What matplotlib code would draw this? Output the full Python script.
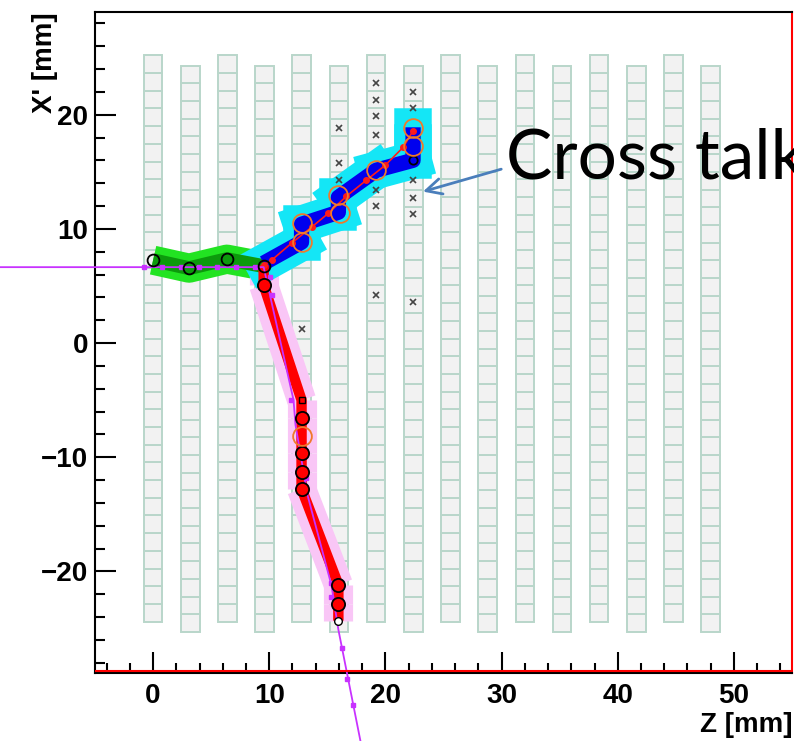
import matplotlib
matplotlib.use("Agg")
import matplotlib.pyplot as plt
from matplotlib.patches import Rectangle

# detector layers (z position of each column, mm)
layer_z = [0.0, 3.2, 6.4, 9.6, 12.8, 16.0, 19.2, 22.4, 25.6, 28.8, 32.0, 35.2, 38.4, 41.6, 44.8, 48.0]
layer_bottom = [-24.4, -25.3]  # even / odd columns are staggered
n_cells = 32
cell_h = 1.55
cell_w = 1.6

# primary (green) track
green_z = [0.0, 3.1, 6.35, 9.52]
green_x = [7.26, 6.56, 7.35, 6.74]

# blue / cyan track going up
blue_z = [9.52, 12.78, 12.78, 15.95, 15.95, 19.21, 22.38, 22.38, 22.38]
blue_x = [7.0, 8.84, 10.41, 11.46, 12.77, 15.14, 16.01, 17.5, 18.9]
blue_fit_z = [9.52, 10.2, 11.92, 13.64, 15.09, 16.64, 18.35, 19.98, 21.53, 22.38]
blue_fit_x = [6.82, 7.26, 8.75, 10.15, 11.37, 12.86, 14.26, 15.57, 17.15, 18.6]
orange_z = [12.78, 12.78, 15.95, 16.1, 19.21, 22.38, 22.38]
orange_x = [10.5, 8.84, 13.0, 11.4, 15.14, 18.8, 17.3]

# red track going down
red_z = [9.52, 9.52, 12.78, 12.78, 12.78, 12.78, 12.78, 15.95, 15.95, 15.95]
red_x = [6.82, 5.07, -4.99, -6.56, -9.62, -11.29, -12.77, -21.17, -22.83, -24.32]
red_hit_z = [9.52, 12.78, 12.78, 12.78, 12.78, 15.95, 15.95]
red_hit_x = [5.07, -6.56, -9.62, -11.29, -12.77, -21.17, -22.83]

# true (MC) particle path
mc_z = [-13.2, 9.52, 12.09, 12.26, 13.29, 15.35, 15.95, 17.84]
mc_x = [6.65, 6.65, -4.99, -7.17, -13.3, -21.2, -25.1, -34.8]
mc_mz = [-0.77, 0.77, 2.4, 3.95, 5.5, 7.1, 8.8, 10.1, 10.2, 11.9, 13.2, 15.3, 15.35, 16.3, 16.72, 17.24]
mc_mx = [6.65, 6.65, 6.65, 6.65, 6.65, 6.65, 6.65, 5.8, 4.2, -5.0, -11.8, -21.0, -22.2, -26.7, -29.4, -31.7]

# cross talk hits
xt_z = [12.8, 16.0, 16.0, 16.0, 19.2, 19.2, 19.2, 19.2, 19.2, 19.2, 19.2,
        22.4, 22.4, 22.4, 22.4, 22.4, 22.4]
xt_x = [1.22, 18.8, 15.8, 14.3, 22.8, 21.3, 19.9, 18.2, 13.4, 12.0, 4.2,
        22.0, 20.6, 14.3, 12.7, 11.3, 3.6]

fig = plt.figure(figsize=(7.94, 7.41), dpi=100)
ax = fig.add_axes([95 / 794, 68 / 741, 697 / 794, 661 / 741])
ax.set_xlim(-5, 55)
ax.set_ylim(-28.9, 29.0)

for i, z in enumerate(layer_z):
    y0 = layer_bottom[i % 2]
    for k in range(n_cells):
        ax.add_patch(Rectangle((z - cell_w / 2, y0 + k * cell_h), cell_w, cell_h,
                               facecolor='#f2f2f2', edgecolor='#b9d6ca', lw=1.4, zorder=1))

# wide bands
ax.plot(green_z, green_x, color='#22e322', lw=21, solid_capstyle='butt', zorder=2)
ax.plot(green_z, green_x, color='#0c9a0c', lw=10, solid_capstyle='butt', zorder=3)
for j in range(len(red_z) - 1):
    ax.plot(red_z[j:j + 2], red_x[j:j + 2], color='#f9c6f6', lw=21,
            solid_capstyle='butt', zorder=2)
for j in range(len(blue_z) - 1):
    ax.plot(blue_z[j:j + 2], blue_x[j:j + 2], color='#14e6f6', lw=27,
            solid_capstyle='projecting', zorder=2)
ax.plot(blue_z, blue_x, color='#0000ee', lw=11, solid_capstyle='butt', zorder=3)
ax.plot(red_z, red_x, color='#ff0000', lw=7.5, solid_capstyle='butt', zorder=3)

ax.plot(blue_fit_z, blue_fit_x, color='#ff1a1a', lw=1.2, marker='o', ms=4,
        mec='#ff1a1a', zorder=5)

# true path
ax.plot(mc_z, mc_x, color='#c832ff', lw=1.3, zorder=6, clip_on=False)
ax.plot(mc_mz, mc_mx, ls='none', marker='s', ms=3.5, color='#c832ff', zorder=6, clip_on=False)

# hits
ax.plot(green_z, green_x, ls='none', marker='o', ms=8.5, mfc='none', mec='black', mew=1.3, zorder=7)
ax.plot(red_hit_z, red_hit_x, ls='none', marker='o', ms=9.5, mfc='#ff0000', mec='black', mew=1.3, zorder=7)
ax.plot([15.95], [-24.32], ls='none', marker='o', ms=5.5, mfc='white', mec='black', mew=1, zorder=7)
ax.plot([22.38], [16.01], ls='none', marker='o', ms=6, mfc='none', mec='black', mew=1.3, zorder=7)
ax.plot([12.78], [-5.0], ls='none', marker='s', ms=4.5, mfc='#ff0000', mec='black', mew=1, zorder=7)
ax.plot(orange_z, orange_x, ls='none', marker='o', ms=13.5, mfc='none', mec='#f07a2a', mew=1.3, zorder=7)
ax.plot([12.78], [-8.1], ls='none', marker='o', ms=13.5, mfc='none', mec='#f07a2a', mew=1.3, zorder=7)
ax.plot(xt_z, xt_x, ls='none', marker='x', ms=4, color='#444444', mew=1.2, zorder=4)

# frame
ax.axhline(-28.75, color='#ff0000', lw=1.5, zorder=8)
for s in ['left', 'top', 'bottom']:
    ax.spines[s].set_color('black')
    ax.spines[s].set_linewidth(1.5)
ax.spines['right'].set_color('#ff0000')
ax.spines['right'].set_linewidth(1.5)

ax.set_xticks([0, 10, 20, 30, 40, 50])
ax.set_xticks(range(-4, 56, 2), minor=True)
ax.set_yticks([-20, -10, 0, 10, 20])
ax.set_yticks(range(-28, 29, 2), minor=True)
ax.tick_params(which='major', direction='in', length=15, width=1.5, pad=7)
ax.tick_params(which='minor', direction='in', length=7.5, width=1.5)
ax.tick_params(axis='y', pad=5)
lab_font = ['Liberation Sans Narrow', 'Liberation Sans']
for t in ax.get_xticklabels() + ax.get_yticklabels():
    t.set_fontfamily(lab_font)
    t.set_fontweight('bold')
    t.set_fontsize(20)

fig.text(792 / 794, 1 - 725 / 741, 'Z [mm]', ha='right', va='center',
         fontsize=20, fontweight='bold', family=lab_font)
fig.text(45 / 794, 1 - 12 / 741, "X' [mm]", ha='center', va='top', rotation=90,
         fontsize=20, fontweight='bold', family=lab_font)

ax.annotate('', xy=(23.0, 13.2), xytext=(30.2, 15.3),
            arrowprops=dict(arrowstyle='->', color='#4a7ebb', lw=2, mutation_scale=28),
            zorder=9)
ax.text(30.4, 14.4, 'Cross talk', fontsize=50, family='Lato', color='black',
        ha='left', va='baseline', zorder=9, clip_on=False)

fig.savefig('out.png', dpi=100)
